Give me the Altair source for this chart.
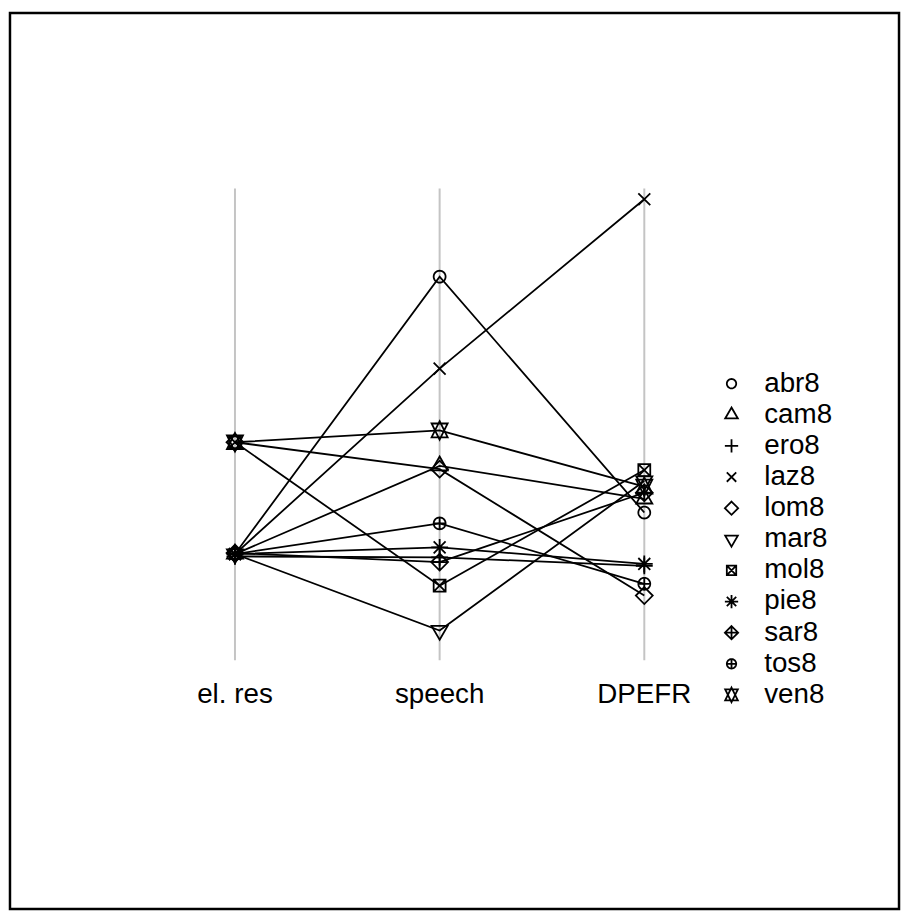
import math
import altair as alt
import pandas as pd

# ---- data ----
series = ["abr8", "cam8", "ero8", "laz8", "lom8", "mar8", "mol8", "pie8", "sar8", "tos8", "ven8"]
axis_names = ["el. res", "speech", "DPEFR"]
el_res = [22.5, 22.5, 22.0, 22.5, 46.2, 22.5, 46.2, 22.5, 22.7, 22.5, 46.2]
speech = [81.3, 41.2, 21.8, 61.8, 40.5, 6.3, 15.8, 23.9, 20.8, 29.0, 48.7]
dpefr = [31.3, 34.2, 20.0, 97.7, 13.7, 38.0, 40.3, 20.4, 35.5, 16.2, 36.8]

# R-like plotting symbols (pch 1..11), unit = symbol radius
def circle_path(n=32):
    pts = [(math.cos(2 * math.pi * k / n), math.sin(2 * math.pi * k / n)) for k in range(n)]
    return "M" + "L".join(f"{x:.3f},{y:.3f}" for x, y in pts) + "Z"

CIRC = circle_path()
shapes = [
    CIRC,                                                     # 1 circle
    "M0,-1.555L1.347,0.778L-1.347,0.778Z",                    # 2 triangle
    "M-1.414,0L1.414,0M0,-1.414L0,1.414",                     # 3 plus
    "M-1,-1L1,1M-1,1L1,-1",                                   # 4 cross
    "M0,-1.414L1.414,0L0,1.414L-1.414,0Z",                    # 5 diamond
    "M0,1.555L1.347,-0.778L-1.347,-0.778Z",                   # 6 down triangle
    "M-1,-1L1,-1L1,1L-1,1ZM-1,-1L1,1M-1,1L1,-1",              # 7 square x
    "M-1,-1L1,1M-1,1L1,-1M-1.414,0L1.414,0M0,-1.414L0,1.414", # 8 asterisk
    "M0,-1.414L1.414,0L0,1.414L-1.414,0ZM-1.414,0L1.414,0M0,-1.414L0,1.414",  # 9
    CIRC + "M-1,0L1,0M0,-1L0,1",                              # 10 circle plus
    "M0,-1.555L1.347,1.166L-1.347,1.166ZM0,1.555L1.347,-1.166L-1.347,-1.166Z",  # 11
]

rows = []
for s, a, b, c in zip(series, el_res, speech, dpefr):
    for i, v in enumerate([a, b, c]):
        rows.append({"series": s, "idx": i + 1, "value": v})
df = pd.DataFrame(rows)
axdf = pd.DataFrame({"idx": [1, 2, 3], "name": axis_names, "lo": [0, 0, 0], "hi": [100, 100, 100], "lab": [-7.35] * 3})

FONT = "Liberation Sans"
xs = alt.Scale(domain=[-0.0993, 4.2446], nice=False, zero=False)
ys = alt.Scale(domain=[-52.73, 137.18], nice=False, zero=False)

rules = alt.Chart(axdf).mark_rule(color="#C4C4C4", strokeWidth=2).encode(
    x=alt.X("idx:Q", scale=xs, axis=None),
    y=alt.Y("lo:Q", scale=ys, axis=None),
    y2="hi:Q",
)

lines = alt.Chart(df).mark_line(color="black", strokeWidth=1.8).encode(
    x=alt.X("idx:Q", scale=xs, axis=None),
    y=alt.Y("value:Q", scale=ys, axis=None),
    detail="series:N",
    order="idx:Q",
)

points = alt.Chart(df).mark_point(
    filled=False, color="black", strokeWidth=1.8, size=145, opacity=1
).encode(
    x=alt.X("idx:Q", scale=xs, axis=None),
    y=alt.Y("value:Q", scale=ys, axis=None),
    shape=alt.Shape(
        "series:N",
        scale=alt.Scale(domain=series, range=shapes),
        legend=alt.Legend(
            title=None,
            orient="none",
            legendX=714,
            legendY=360,
            padding=0,
            symbolSize=90,
            symbolStrokeWidth=1.8,
            symbolStrokeColor="black",
            labelFont=FONT,
            labelFontSize=28,
            labelColor="black",
            labelOffset=19,
            rowPadding=3.4,
            labelLimit=300,
        ),
    ),
)

labels = alt.Chart(axdf).mark_text(
    font=FONT, fontSize=28, color="black", baseline="middle", align="center"
).encode(
    x=alt.X("idx:Q", scale=xs, axis=None),
    y=alt.Y("lab:Q", scale=ys, axis=None),
    text="name:N",
)

chart = (
    alt.layer(rules, lines, points, labels)
    .properties(
        width=897,
        height=904,
        padding={"left": 2, "top": 1, "right": 2, "bottom": 0},
        autosize="none",
    )
    .configure_view(stroke="black", strokeWidth=2.5)
)

chart.save("out.html", embed_options={"renderer": "svg", "actions": False})
